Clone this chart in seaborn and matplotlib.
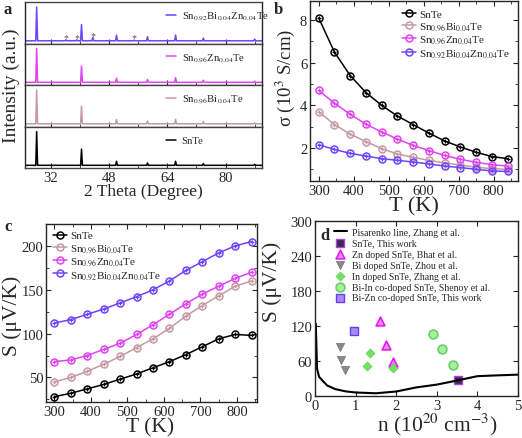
import numpy as np
import pandas as pd
import matplotlib
matplotlib.use("Agg")
import matplotlib.pyplot as plt
import seaborn as sns
from matplotlib.ticker import AutoMinorLocator, MultipleLocator

# ---------------- data ----------------
labels = ["SnTe",
          "Sn$_{0.96}$Bi$_{0.04}$Te",
          "Sn$_{0.96}$Zn$_{0.04}$Te",
          "Sn$_{0.92}$Bi$_{0.04}$Zn$_{0.04}$Te"]
colors = ["#000000", "#c69aa2", "#e044f0", "#6e44ff"]

# panel a: XRD peaks (2theta, relative height) per sample
peak_pos = [28.2, 40.5, 50.1, 58.6, 66.3, 73.9, 88.0]
h_snte = [1.0, 0.48, 0.12, 0.07, 0.12, 0.05, 0.03]
h_bi = [1.0, 0.52, 0.13, 0.08, 0.13, 0.07, 0.03]
h_zn = [1.0, 0.48, 0.12, 0.08, 0.14, 0.06, 0.03]
h_bizn = [1.0, 0.48, 0.17, 0.12, 0.17, 0.08, 0.05]
imp_pos = [36.2, 39.2, 43.6, 54.9]
imp_h = [0.03, 0.03, 0.10, 0.02]

# panels b, c: temperature series
T = [300, 345, 390, 435, 480, 525, 570, 615, 660, 705, 750, 795, 840]
sig_snte = [8.1, 6.5, 5.4, 4.6, 4.0, 3.5, 3.1, 2.7, 2.33, 2.05, 1.8, 1.6, 1.5]
sig_bi = [3.7, 3.1, 2.65, 2.3, 1.97, 1.72, 1.56, 1.42, 1.3, 1.2, 1.1, 1.03, 1.0]
sig_zn = [4.7, 4.1, 3.58, 3.12, 2.75, 2.42, 2.12, 1.88, 1.65, 1.47, 1.33, 1.22, 1.15]
sig_bizn = [2.15, 1.93, 1.75, 1.62, 1.5, 1.42, 1.34, 1.25, 1.15, 1.08, 1.0, 0.92, 0.9]

S_snte = [28, 32, 37, 42, 48, 54, 61, 68, 76, 85, 94, 99, 98]
S_bi = [45, 50, 57, 65, 74, 84, 94, 106, 120, 132, 143, 154, 160]
S_zn = [68, 70, 75, 82, 89, 99, 110, 122, 134, 145, 154, 163, 170]
S_bizn = [112, 116, 122, 128, 135, 142, 150, 160, 172, 182, 192, 200, 205]

# panel d
pis_n = [0.02, 0.05, 0.1, 0.19, 0.3, 0.5, 0.75, 1.0, 1.5, 2.0, 2.5, 3.0, 3.5, 4.0, 4.5, 5.0]
pis_S = [124, 47, 33, 26, 18, 11.8, 8, 6, 4.7, 7.7, 14.8, 19.5, 26.6, 34, 35.4, 36.6]
snte_n, snte_S = [3.52], [27]
zn_n, zn_S = [1.6, 1.74, 1.91], [128, 87, 58]
bi_n, bi_S = [0.62, 0.63, 0.75], [84, 62, 44]
in_n, in_S = [1.27, 1.36, 1.92], [52, 74, 48]
biin_n, biin_S = [2.9, 3.12, 3.41], [107, 81, 54]
bizn_n, bizn_S = [0.96], [112]

# ---------------- style ----------------
sns.set_style("ticks")
plt.rcParams["font.family"] = ["Liberation Serif", "DejaVu Serif"]
plt.rcParams["mathtext.fontset"] = "stix"
plt.rcParams["xtick.direction"] = "in"
plt.rcParams["ytick.direction"] = "in"
plt.rcParams["axes.linewidth"] = 1.0

W, H = 522, 439
fig = plt.figure(figsize=(W / 100, H / 100), dpi=100)


def box(l, t, r, b):
    return [l / W, 1 - b / H, (r - l) / W, (b - t) / H]


def ftext(x, y, s, size, rot=0, **kw):
    # text placed by pixel centre
    fig.text(x / W, 1 - y / H, s, fontsize=size, rotation=rot,
             ha="center", va="center", **kw)


# ---------------- panel a ----------------
xrd = [(h_bizn, 3), (h_zn, 2), (h_bi, 1), (h_snte, 0)]
sub_h = 41.5
for i, (hts, ci) in enumerate(xrd):
    ax = fig.add_axes(box(25, 3 + sub_h * i, 262, 3 + sub_h * (i + 1)))
    pos = list(peak_pos)
    hh = list(hts)
    if i == 0:
        pos += imp_pos
        hh += imp_h
    xs, ys = [25], [0]
    for p, h in sorted(zip(pos, hh)):
        xs += [p - 0.25, p, p + 0.25]
        ys += [0, h, 0]
    xs.append(90)
    ys.append(0)
    df = pd.DataFrame({"x": xs, "y": ys})
    sns.lineplot(data=df, x="x", y="y", ax=ax, color=colors[ci], lw=1.1,
                 sort=False, label=labels[ci])
    if i == 0:
        for p, h in zip(imp_pos, imp_h):
            ax.text(p, h + 0.06, "*", ha="center", va="center", fontsize=7,
                    color="#555555")
    ax.set_xlim(25, 90)
    ax.set_ylim(-0.08, 1.15)
    ax.set_yticks([])
    ax.set_ylabel("")
    ax.set_xlabel("")
    for sp in ["top", "bottom"]:
        ax.spines[sp].set_color("#444444")
    ax.xaxis.set_major_locator(MultipleLocator(16))
    ax.xaxis.set_minor_locator(AutoMinorLocator(2))
    ax.legend(loc="center left", frameon=False, fontsize=7.7,
              handlelength=1.0, handletextpad=0.5, borderaxespad=0,
              bbox_to_anchor=(0.575, 0.66))
    if i < 3:
        ax.tick_params(axis="x", labelbottom=False)
    else:
        ax.tick_params(axis="x", labelsize=10.5, pad=2)
ftext(143, 192, "2 Theta (Degree)", 12.5)
ftext(11, 86, "Intensity (a.u.)", 14, rot=90)
ftext(8, 10, "a", 12, fontweight="bold")


def tdep(ax, series):
    for k in range(4):
        sns.lineplot(x=T, y=series[k], ax=ax, color=colors[k], lw=1.1,
                     marker="o", ms=5, mfc="none", mec=colors[k], mew=1.1,
                     label=labels[k])
        sns.scatterplot(x=T, y=series[k], ax=ax, color=colors[k], marker="+",
                        s=10, linewidth=0.9, legend=False)
    ax.set_xlabel("")
    ax.set_ylabel("")
    ax.xaxis.set_major_locator(MultipleLocator(100))
    ax.xaxis.set_minor_locator(AutoMinorLocator(2))
    ax.yaxis.set_minor_locator(AutoMinorLocator(2))
    ax.tick_params(labelsize=10.5, pad=2)
    ax.tick_params(which="both", top=True, right=True)


# ---------------- panel b ----------------
axb = fig.add_axes(box(310, 2, 518, 182))
tdep(axb, [sig_snte, sig_bi, sig_zn, sig_bizn])
axb.set_xlim(275, 870)
axb.set_ylim(0.45, 8.9)
axb.yaxis.set_major_locator(MultipleLocator(2))
axb.legend(loc="upper right", frameon=False, fontsize=8, handlelength=1.3,
           handletextpad=0.3, labelspacing=0.15, borderaxespad=0.3)
ftext(414, 207, "T (K)", 16)
ftext(285, 78, "σ (10$^3$ S/cm)", 13.5, rot=90)
ftext(278, 10, "b", 12, fontweight="bold")

# ---------------- panel c ----------------
axc = fig.add_axes(box(46, 225, 257, 403))
tdep(axc, [S_snte, S_bi, S_zn, S_bizn])
axc.set_xlim(277, 855)
axc.set_ylim(22, 225)
axc.yaxis.set_major_locator(MultipleLocator(50))
axc.legend(loc="upper left", frameon=False, fontsize=8, handlelength=1.3,
           handletextpad=0.3, labelspacing=0.15, borderaxespad=0.2)
ftext(150, 428, "T (K)", 15.5)
ftext(12, 316, "S (μV/K)", 15.5, rot=90)
ftext(8, 227, "c", 12, fontweight="bold")

# ---------------- panel d ----------------
axd = fig.add_axes(box(315, 222, 518, 397))
sns.lineplot(x=pis_n, y=pis_S, ax=axd, color="black", lw=1.5,
             label="Pisarenko line, Zhang et al.")
sns.scatterplot(x=snte_n, y=snte_S, ax=axd, marker="s", s=30,
                facecolor="#3a2a5c", edgecolor="#b040d0", linewidth=1,
                label="SnTe, This work")
sns.scatterplot(x=zn_n, y=zn_S, ax=axd, marker="^", s=40, color="#f088f8",
                edgecolor="#e020f0", linewidth=1.2,
                label="Zn doped SnTe, Bhat et al.")
sns.scatterplot(x=bi_n, y=bi_S, ax=axd, marker="v", s=35, color="#8a8a8a",
                edgecolor="#6f6f6f", label="Bi doped SnTe, Zhou et al.")
sns.scatterplot(x=in_n, y=in_S, ax=axd, marker="D", s=22, color="#72e060",
                edgecolor="#5cc850", label="In doped SnTe, Zhang et al.")
sns.scatterplot(x=biin_n, y=biin_S, ax=axd, marker="o", s=40,
                color="#a8f0a0", edgecolor="#66d066", linewidth=1.2,
                label="Bi-In co-doped SnTe, Shenoy et al.")
sns.scatterplot(x=bizn_n, y=bizn_S, ax=axd, marker="s", s=34,
                color="#a48cf0", edgecolor="#6a3cf0", linewidth=1,
                label="Bi-Zn co-doped SnTe, This work")
axd.set_xlim(0, 5)
axd.set_ylim(0, 300)
axd.yaxis.set_major_locator(MultipleLocator(60))
axd.xaxis.set_major_locator(MultipleLocator(1))
axd.tick_params(labelsize=10.5, pad=2)
axd.tick_params(which="both", top=True, right=True)
axd.set_xlabel("")
axd.set_ylabel("")
axd.legend(loc="upper left", frameon=False, fontsize=7, handlelength=1.3,
           handletextpad=0.6, labelspacing=0.2, borderaxespad=0.3,
           bbox_to_anchor=(0.06, 1.0))
ftext(437, 425, "n (10$^{20}$ cm$^{-3}$)", 15.5)
ftext(272, 282, "S (μV/K)", 15.5, rot=90)
axd.text(0.025, 0.965, "d", transform=axd.transAxes, fontsize=12,
         fontweight="bold", ha="left", va="top")

fig.savefig("out.png", dpi=100)
